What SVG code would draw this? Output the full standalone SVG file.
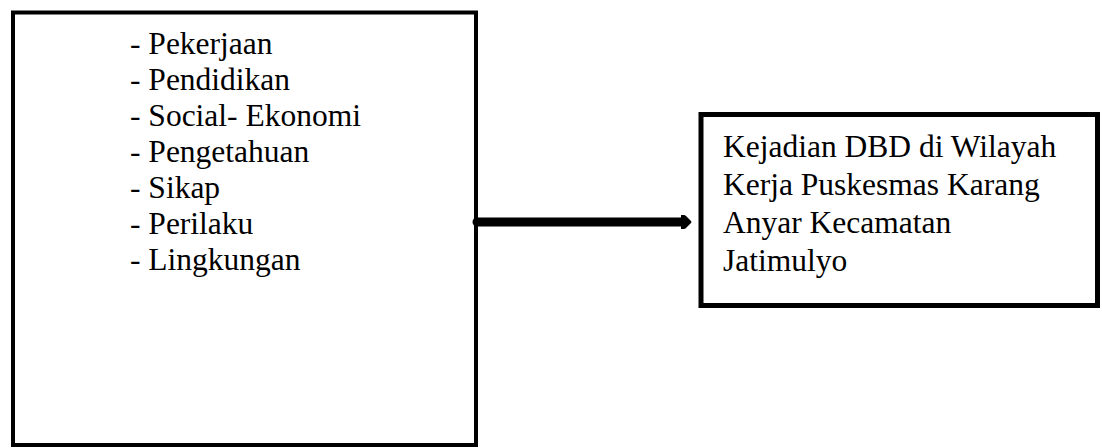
<svg xmlns="http://www.w3.org/2000/svg" width="1102" height="448" viewBox="0 0 1102 448">
<style>
.box{fill:#fff;stroke:#000}
.t{font-size:31.5px;fill:#000}
</style>
<defs>
<marker id="ah" markerUnits="userSpaceOnUse" markerWidth="14" markerHeight="18" refX="3" refY="8" orient="auto">
<path d="M0,1 L3,1 Q4,1 5,2 L10,7 Q11,8 10,9 L5,14 Q4,15 3,15 L0,15 Z" fill="#000"/>
</marker>
</defs>
<rect width="1102" height="448" fill="#fff"/>
<g id="factors">
<rect class="box" x="13" y="12.5" width="463" height="432.5" stroke-width="4"/>
<text class="t" font-family="'Liberation Serif', 'DejaVu Serif', serif"><tspan x="130" y="54">- Pekerjaan</tspan><tspan x="130" y="90">- Pendidikan</tspan><tspan x="130" y="126">- Social- Ekonomi</tspan><tspan x="130" y="162">- Pengetahuan</tspan><tspan x="130" y="198">- Sikap</tspan><tspan x="130" y="234">- Perilaku</tspan><tspan x="130" y="270">- Lingkungan</tspan></text>
</g>
<g id="outcome">
<rect class="box" x="701" y="114.5" width="396.5" height="191" stroke-width="5"/>
<text class="t" font-family="'Liberation Serif', 'DejaVu Serif', serif"><tspan x="723" y="157">Kejadian DBD di Wilayah</tspan><tspan x="723" y="195">Kerja Puskesmas Karang</tspan><tspan x="723" y="233">Anyar Kecamatan</tspan><tspan x="723" y="271">Jatimulyo</tspan></text>
</g>
<g id="connectors">
<line x1="477" y1="222" x2="684" y2="222" stroke="#000" stroke-width="9" stroke-linecap="round" marker-end="url(#ah)"/>
</g>
</svg>
